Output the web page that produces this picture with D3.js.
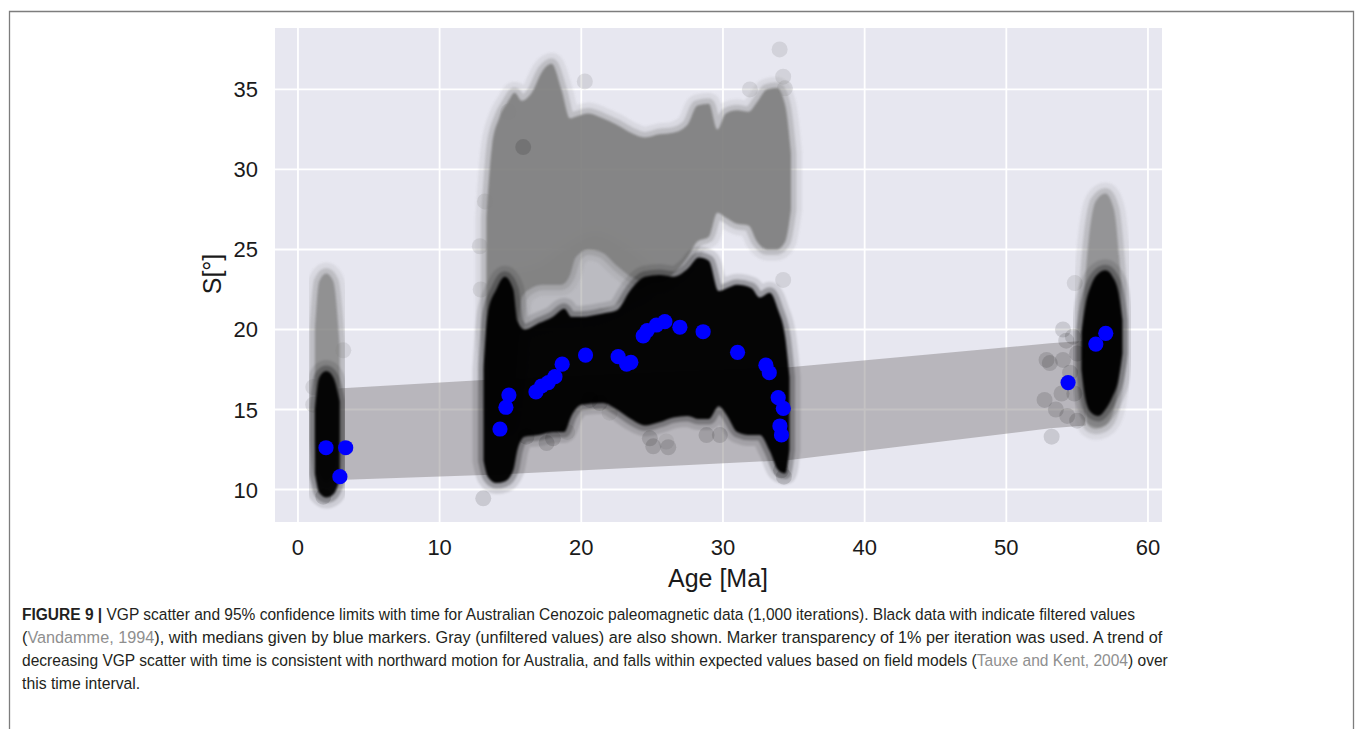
<!DOCTYPE html>
<html>
<head>
<meta charset="utf-8">
<script src="https://cdn.jsdelivr.net/npm/d3@7/dist/d3.min.js"></script>
<style>
  html, body { margin: 0; padding: 0; background: #ffffff; }
  svg { display: block; }
</style>
</head>
<body>
<svg id="fig" width="1355" height="729"></svg>
<script>
// ---- Median VGP scatter per site (blue markers) ----
const medianAge = [1.98, 3.37, 2.96, 14.26, 14.68, 14.89, 16.8, 17.2, 17.67, 18.14, 18.65,
  20.3, 22.6, 23.2, 23.5, 24.37, 24.65, 25.3, 25.9, 26.96, 28.6, 31.03, 33.03, 33.27,
  33.9, 34.26, 34.02, 34.13, 54.36, 56.32, 57.02];
const medianS = [12.61, 12.61, 10.8, 13.78, 15.14, 15.9, 16.1, 16.47, 16.68, 17.05, 17.83,
  18.4, 18.3, 17.84, 17.95, 19.6, 19.93, 20.28, 20.49, 20.14, 19.86, 18.57, 17.77, 17.3,
  15.74, 15.07, 13.97, 13.41, 16.68, 19.09, 19.76];

// ---- Expected scatter from field model (95% limits) ----
const bandAge = [2.8, 13.1, 34.7, 53.1, 55.6];
const bandLo = [10.59, 10.9, 11.84, 13.83, 14.0];
const bandHi = [16.32, 16.84, 17.64, 19.14, 19.3];

// ---- Bootstrap clouds: envelopes of the iterations (filtered = black, unfiltered = gray) ----
const leftAge = [1.2, 1.5, 2.0, 2.5, 2.95];
const leftBlackLo = [11.0, 9.8, 9.5, 9.7, 10.6];
const leftBlackHi = [15.0, 17.0, 17.4, 17.0, 15.5];
const leftGrayLo = [13.0, 11.0, 10.5, 11.0, 13.0];
const leftGrayHi = [20.0, 23.0, 23.5, 23.0, 19.0];

const midBlackAge = [13.1, 13.4, 14.0, 14.6, 15.2, 15.5, 16.0, 17.0, 18.0, 18.8, 19.3, 20.0,
  21.5, 22.5, 23.5, 24.5, 25.5, 26.5, 27.5, 28.3, 29.0, 29.7, 30.3, 31.0, 32.0, 32.6,
  33.3, 33.9, 34.4, 34.7];
const midBlackLo = [11.8, 10.8, 10.4, 10.5, 11.2, 12.5, 13.3, 13.4, 13.6, 13.6, 14.6, 15.3,
  15.4, 15.0, 14.4, 14.0, 14.2, 14.5, 14.6, 14.4, 14.4, 15.2, 14.6, 13.6, 13.4, 13.4,
  12.4, 11.2, 11.0, 12.5];
const midBlackHi = [17.5, 21.0, 22.5, 23.3, 22.5, 20.5, 20.0, 20.4, 20.8, 21.3, 20.8, 20.8,
  21.0, 21.2, 22.5, 23.3, 23.4, 23.3, 23.8, 24.5, 24.3, 22.4, 22.6, 22.8, 22.6, 22.0,
  22.3, 21.2, 19.5, 17.0];

const midGrayAge = [13.3, 13.7, 14.2, 14.8, 15.3, 15.8, 16.5, 17.3, 17.9, 18.6, 19.2, 19.6,
  20.5, 21.5, 22.5, 23.5, 24.5, 25.5, 26.5, 27.5, 28.2, 29.0, 29.6, 30.2, 31.0, 31.8,
  32.4, 33.1, 33.8, 34.4, 34.8];
const midGrayLo = [20.0, 16.0, 14.0, 14.0, 17.0, 22.0, 22.6, 22.8, 22.8, 22.8, 23.4, 24.5,
  25.0, 24.8, 24.0, 23.3, 23.0, 23.0, 23.5, 24.5, 25.5, 25.8, 27.3, 27.0, 26.6, 26.5,
  25.5, 25.0, 25.0, 25.5, 27.5];
const midGrayHi = [27.0, 31.5, 33.2, 34.2, 34.8, 34.3, 34.8, 36.2, 36.6, 35.0, 33.2, 33.3,
  33.5, 33.2, 32.8, 32.3, 32.0, 32.2, 32.3, 32.8, 34.0, 34.1, 32.5, 33.5, 33.7, 33.6,
  34.2, 35.0, 35.1, 34.0, 31.0];

// sparse unfiltered iterations between the gray and black bodies
const midSparseAge = [15.6, 17.0, 19.0, 21.0, 23.0, 24.5];
const midSparseLo = [20.0, 20.4, 20.8, 21.0, 21.8, 22.5];
const midSparseHi = [23.5, 23.8, 25.0, 25.8, 25.0, 24.0];

const rightAge = [55.3, 55.6, 56.0, 56.5, 57.0, 57.5, 57.9, 58.2];
const rightBlackLo = [17.5, 15.6, 14.8, 14.6, 15.0, 15.8, 16.8, 18.5];
const rightBlackHi = [19.8, 21.6, 22.8, 23.5, 23.7, 23.3, 22.4, 20.6];
const rightGrayAge = [55.4, 55.8, 56.3, 57.0, 57.6, 58.1];
const rightGrayLo = [16.0, 14.0, 13.8, 14.0, 15.0, 18.0];
const rightGrayHi = [21.0, 25.5, 28.0, 28.5, 27.5, 23.0];

// Isolated iterations away from the dense clouds
const blackDotAge = [13.08, 24.84, 25.08, 26.14, 20.6, 21.3, 17.55, 18.0, 16.13, 28.84, 29.78,
  1.79, 15.9, 52.84, 53.07, 52.7, 54.23, 54.7, 54.0, 54.5, 53.5, 54.3, 53.9, 55.0, 53.2,
  54.0, 55.0, 54.8, 34.1, 34.3];
const blackDotS = [9.45, 13.2, 12.7, 12.64, 15.6, 15.4, 12.9, 13.2, 13.3, 13.4, 13.4,
  9.55, 31.4, 18.1, 17.9, 15.6, 19.3, 19.55, 18.1, 17.3, 15.0, 14.6, 16.0, 14.3, 13.3,
  20.0, 18.5, 16.0, 11.2, 10.8];
const grayDotAge = [34.0, 34.25, 34.37, 31.9, 12.84, 14.84, 20.25, 34.25, 1.08, 1.08, 3.2,
  54.83, 13.2, 12.9, 26.0, 19.0, 22.0];
const grayDotS = [37.5, 35.8, 35.07, 35.0, 25.2, 33.6, 35.5, 23.1, 16.4, 15.3, 18.7,
  22.9, 28.0, 22.5, 13.0, 13.6, 14.8];

// Tick values
const xTicks = [0, 10, 20, 30, 40, 50, 60];
const yTicks = [10, 15, 20, 25, 30, 35];

// Caption lines: [text, style] segments
const captionLines = [
  [["FIGURE 9 | ", "bold"], ["VGP scatter and 95% confidence limits with time for Australian Cenozoic paleomagnetic data (1,000 iterations). Black data with indicate filtered values", "plain"]],
  [["(", "plain"], ["Vandamme, 1994", "ref"], ["), with medians given by blue markers. Gray (unfiltered values) are also shown. Marker transparency of 1% per iteration was used. A trend of", "plain"]],
  [["decreasing VGP scatter with time is consistent with northward motion for Australia, and falls within expected values based on field models (", "plain"], ["Tauxe and Kent, 2004", "ref"], [") over", "plain"]],
  [["this time interval.", "plain"]]
];
// justified widths of the full lines; the last line keeps the mean condensation
const captionWidths = [1114, 1141, 1147, null];

// ---------------------------------------------------------------
const svg = d3.select("#fig");
const plot = { left: 275, right: 1162, top: 28, bottom: 522 };

const x = d3.scaleLinear().domain([-1.62, 60.99]).range([plot.left, plot.right]);
const y = d3.scaleLinear().domain([7.97, 38.84]).range([plot.bottom, plot.top]);

// figure frame
svg.append("path")
  .attr("d", "M9.5,729 L9.5,11.5 L1353.5,11.5 L1353.5,729")
  .attr("fill", "none").attr("stroke", "#7d7d7d").attr("stroke-width", 1.3);

const defs = svg.append("defs");
defs.append("clipPath").attr("id", "plotclip").append("rect")
  .attr("x", plot.left).attr("y", plot.top)
  .attr("width", plot.right - plot.left).attr("height", plot.bottom - plot.top);
defs.append("filter").attr("id", "soft").attr("x", "-20%").attr("y", "-20%")
  .attr("width", "140%").attr("height", "140%")
  .append("feGaussianBlur").attr("stdDeviation", 1.1);

// background + grid
svg.append("rect").attr("x", plot.left).attr("y", plot.top)
  .attr("width", plot.right - plot.left).attr("height", plot.bottom - plot.top)
  .attr("fill", "#e7e7f0");

const grid = svg.append("g").attr("stroke", "#ffffff").attr("stroke-width", 1.8);
grid.selectAll("line.gx").data(xTicks).join("line")
  .attr("x1", d => x(d)).attr("x2", d => x(d))
  .attr("y1", plot.top).attr("y2", plot.bottom);
grid.selectAll("line.gy").data(yTicks).join("line")
  .attr("y1", d => y(d)).attr("y2", d => y(d))
  .attr("x1", plot.left).attr("x2", plot.right);

const g = svg.append("g").attr("clip-path", "url(#plotclip)");

// confidence band
const bandData = bandAge.map((a, i) => ({ a, lo: bandLo[i], hi: bandHi[i] }));
g.append("path")
  .attr("d", d3.area().x(d => x(d.a)).y0(d => y(d.lo)).y1(d => y(d.hi))(bandData))
  .attr("fill", "#8a8588").attr("opacity", 0.5);

function cloud(ages, lo, hi, color, coreOpacity, haloOpacity) {
  const data = ages.map((a, i) => ({ a, lo: lo[i], hi: hi[i] }));
  const area = d3.area().x(d => x(d.a)).y0(d => y(d.lo)).y1(d => y(d.hi))
    .curve(d3.curveMonotoneX);
  const layer = g.append("g").attr("filter", "url(#soft)");
  layer.append("path").attr("d", area(data))
    .attr("fill", color).attr("stroke", color).attr("stroke-width", 22)
    .attr("stroke-linejoin", "round").attr("opacity", haloOpacity * 0.45);
  layer.append("path").attr("d", area(data))
    .attr("fill", color).attr("stroke", color).attr("stroke-width", 11)
    .attr("stroke-linejoin", "round").attr("opacity", haloOpacity);
  layer.append("path").attr("d", area(data))
    .attr("fill", color).attr("opacity", coreOpacity);
}

// unfiltered (gray) then filtered (black)
cloud(midSparseAge, midSparseLo, midSparseHi, "#808080", 0.28, 0.15);
cloud(leftAge, leftGrayLo, leftGrayHi, "#808080", 0.72, 0.3);
cloud(midGrayAge, midGrayLo, midGrayHi, "#808080", 0.9, 0.3);
cloud(rightGrayAge, rightGrayLo, rightGrayHi, "#808080", 0.68, 0.3);

g.selectAll("circle.gdot").data(grayDotAge).join("circle")
  .attr("cx", d => x(d)).attr("cy", (d, i) => y(grayDotS[i])).attr("r", 8)
  .attr("fill", "#808080").attr("opacity", 0.2);

cloud(leftAge, leftBlackLo, leftBlackHi, "#000000", 0.95, 0.25);
cloud(midBlackAge, midBlackLo, midBlackHi, "#000000", 0.97, 0.25);
cloud(rightAge, rightBlackLo, rightBlackHi, "#000000", 0.97, 0.25);

g.selectAll("circle.bdot").data(blackDotAge).join("circle")
  .attr("cx", d => x(d)).attr("cy", (d, i) => y(blackDotS[i])).attr("r", 8)
  .attr("fill", "#000000").attr("opacity", 0.13);

// medians
g.selectAll("circle.med").data(medianAge).join("circle")
  .attr("cx", d => x(d)).attr("cy", (d, i) => y(medianS[i])).attr("r", 7.6)
  .attr("fill", "#0000ff");

// tick labels
const font = "'Liberation Sans', Arial, Helvetica, sans-serif";
svg.append("g").selectAll("text").data(xTicks).join("text")
  .attr("x", d => x(d)).attr("y", 555)
  .attr("text-anchor", "middle").attr("font-family", font).attr("font-size", 22)
  .attr("fill", "#1a1a1a").text(d => d);
svg.append("g").selectAll("text").data(yTicks).join("text")
  .attr("x", 258).attr("y", d => y(d) + 8)
  .attr("text-anchor", "end").attr("font-family", font).attr("font-size", 22)
  .attr("fill", "#1a1a1a").text(d => d);

svg.append("text").attr("x", 718).attr("y", 587)
  .attr("text-anchor", "middle").attr("font-family", font).attr("font-size", 25)
  .attr("fill", "#1a1a1a").text("Age [Ma]");
svg.append("text")
  .attr("transform", "translate(221,274) rotate(-90)")
  .attr("text-anchor", "middle").attr("font-family", font).attr("font-size", 25)
  .attr("fill", "#1a1a1a").text("S[°]");

// caption: full lines are fitted to the column width with a horizontal scale
const capFont = "'Liberation Sans Narrow', 'Arial Narrow', 'Liberation Sans', sans-serif";
const lineY = [620, 643, 666, 689];
const scales = [];
captionLines.forEach((segs, i) => {
  const t = svg.append("text").attr("x", 0).attr("y", 0)
    .attr("font-family", capFont).attr("font-size", 17).attr("fill", "#231f20");
  segs.forEach(([txt, style]) => {
    const s = t.append("tspan").text(txt);
    if (style === "bold") s.attr("font-weight", "bold");
    if (style === "ref") s.attr("fill", "#8f8f8f");
  });
  const natural = t.node().getComputedTextLength();
  const k = captionWidths[i] ? captionWidths[i] / natural : d3.mean(scales);
  scales.push(k);
  t.attr("transform", `translate(22,${lineY[i]}) scale(${k},1)`);
});
</script>
</body>
</html>
